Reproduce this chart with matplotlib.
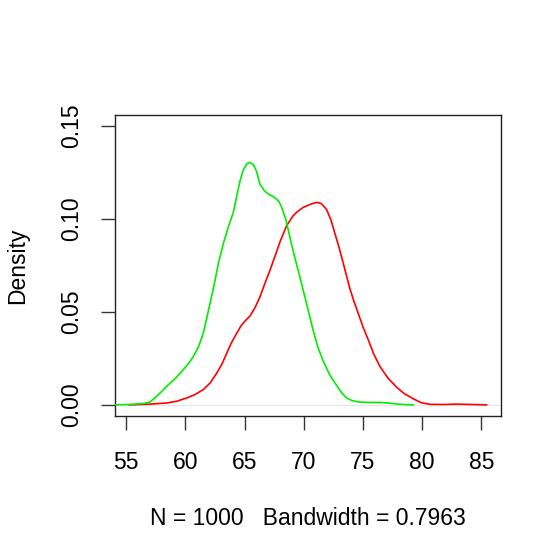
import numpy as np
import matplotlib.pyplot as plt

plt.rcParams['font.family'] = ['Liberation Sans', 'DejaVu Sans']

# density curves (x, density)
green_x = [54.07, 55.5, 56.46, 57.0, 57.3, 57.9, 58.43, 59.2, 59.84, 60.3,
           60.68, 61.1, 61.52, 62.09, 62.45, 62.79, 63.2, 63.63, 64.05, 64.35,
           64.62, 64.9, 65.2, 65.46, 65.75, 66.03, 66.3, 66.65, 67.0, 67.3,
           67.57, 67.9, 68.14, 68.5, 68.84, 69.1, 69.4, 69.75, 70.1, 70.45,
           70.8, 71.2, 71.65, 72.2, 72.78, 73.2, 73.62, 74.1, 74.75, 75.6,
           76.43, 77.3, 78.1, 79.25]
green_y = [0.000, 0.0003, 0.0007, 0.0015, 0.003, 0.0065, 0.010, 0.0145, 0.019, 0.0225,
           0.026, 0.031, 0.0385, 0.0546, 0.065, 0.076, 0.0865, 0.0956, 0.1035, 0.1125,
           0.1205, 0.1265, 0.1298, 0.1305, 0.1292, 0.1255, 0.1188, 0.1155, 0.1135, 0.1125,
           0.1115, 0.1095, 0.1063, 0.0995, 0.090, 0.083, 0.0755, 0.067, 0.058, 0.049,
           0.040, 0.031, 0.0235, 0.016, 0.0105, 0.0065, 0.0037, 0.0022, 0.0015, 0.0013,
           0.0013, 0.0009, 0.0003, 0.0]

red_x = [55.28, 57.0, 58.43, 59.3, 60.12, 60.8, 61.52, 62.1, 62.65, 63.1,
         63.5, 63.9, 64.34, 64.7, 65.1, 65.46, 65.9, 66.3, 66.7, 67.15,
         67.6, 68.0, 68.56, 69.12, 69.5, 69.96, 70.5, 71.09, 71.5, 71.94,
         72.3, 72.64, 72.95, 73.2, 73.55, 73.9, 74.25, 74.6, 75.0, 75.45,
         75.9, 76.43, 77.1, 77.84, 78.5, 79.25, 79.9, 80.65, 81.8, 82.9,
         84.2, 85.44]
red_y = [0.0, 0.0004, 0.001, 0.002, 0.0037, 0.0055, 0.0082, 0.0118, 0.017, 0.022,
         0.0278, 0.0335, 0.0385, 0.0425, 0.0455, 0.0478, 0.0525, 0.058, 0.065, 0.0724,
         0.0805, 0.0878, 0.0965, 0.1019, 0.1042, 0.1063, 0.1078, 0.1090, 0.1083, 0.105,
         0.0995, 0.092, 0.0855, 0.0795, 0.071, 0.0625, 0.0555, 0.0492, 0.042, 0.035,
         0.0275, 0.0207, 0.0145, 0.0095, 0.006, 0.0033, 0.0012, 0.0003, 0.0002, 0.0004,
         0.0002, 0.0]

x_ticks = [55, 60, 65, 70, 75, 80, 85]
y_ticks = [0.00, 0.05, 0.10, 0.15]

fig = plt.figure(figsize=(5.6, 5.6), dpi=100)
ax = fig.add_axes([0.2054, 0.2571, 0.6892, 0.5375])

# zero line as in R's plot.density
ax.axhline(0, color='#e6e6e6', lw=0.8, zorder=1)
ax.plot(red_x, red_y, color='#ff0000', lw=1.2, zorder=2)
ax.plot(green_x, green_y, color='#00ee00', lw=1.2, zorder=3)

ax.set_xlim(54.07, 86.65)
ax.set_ylim(-0.006, 0.156)
ax.set_xticks(x_ticks)
ax.set_xticklabels([str(t) for t in x_ticks])
ax.set_yticks(y_ticks)
ax.set_yticklabels(['%.2f' % t for t in y_ticks], rotation=90, va='center')

ax.tick_params(direction='out', length=10, width=1, labelsize=16.5, color='#333333')
ax.tick_params(axis='x', pad=15)
ax.tick_params(axis='y', pad=13)
for s in ax.spines.values():
    s.set_linewidth(1)
    s.set_color('#222222')

ax.set_xlabel('N = 1000   Bandwidth = 0.7963', fontsize=16.5, labelpad=24)
ax.set_ylabel('Density', fontsize=16.5, labelpad=22)

fig.savefig('out.png', dpi=100)
